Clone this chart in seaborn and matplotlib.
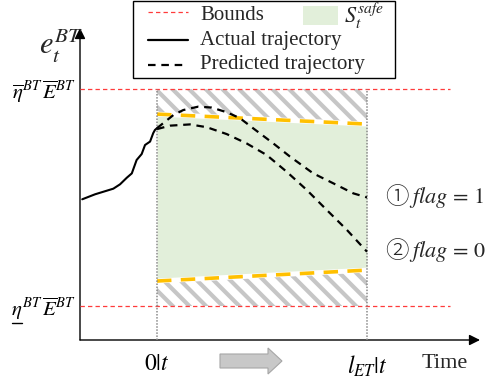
import matplotlib
matplotlib.use('Agg')
import matplotlib.pyplot as plt
import matplotlib.patches as mpatches
import seaborn as sns
import pandas as pd

# time in steps relative to t: 0|t is "now", 10 stands for l_ET|t
horizon = [0, 10]
tick_labels_x = [r'$\mathit{0}|t$', r'$l_{ET}|t$']

# measured (actual) trajectory before t
hist_t = [-3.56, -2.95, -2.08, -1.76, -1.44, -1.20, -0.97, -0.73, -0.57, -0.33, -0.18, -0.10, 0.0]
hist_e = [45.1, 46.7, 48.5, 49.9, 52.0, 53.4, 57.7, 59.6, 62.5, 63.6, 66.3, 67.3, 67.9]

# predicted trajectories over the horizon
pred1_t = [0, 0.78, 1.25, 1.97, 2.6, 3.32, 3.95, 4.59, 5.54, 6.33, 7.44, 8.40, 9.35, 10]
pred1_e = [67.9, 72.1, 73.7, 74.8, 74.5, 73.0, 71.1, 67.8, 63.0, 58.8, 53.4, 50.2, 47.0, 45.7]
pred0_t = [0, 0.62, 1.57, 2.37, 3.32, 4.27, 5.22, 6.18, 7.13, 8.08, 9.04, 10]
pred0_e = [67.6, 68.7, 69.1, 68.2, 66.0, 63.0, 59.3, 53.9, 48.1, 41.7, 35.3, 28.3]

# safe set edges at the start and end of the horizon
safe_upper = [72.4, 69.2]
safe_lower = [18.9, 22.4]

# energy bounds
e_max = 80.4
e_min = 10.9
# mathtext has no \underline, the bar under eta is drawn separately
bound_labels = [r'$\eta^{BT}\,\overline{E}^{BT}$',
                r'$\overline{\eta}^{BT}\,\overline{E}^{BT}$']

flag_labels = [u'\u2460', u'\u2461']
flag_texts = [r'$flag\,=\,1$', r'$flag\,=\,0$']

sns.set_theme(style='white')
plt.rcParams['font.family'] = ['Liberation Serif', 'Noto Sans CJK JP', 'DejaVu Sans']
plt.rcParams['mathtext.fontset'] = 'stix'
plt.rcParams['hatch.linewidth'] = 3.0

W, H = 489, 379
fig = plt.figure(figsize=(W / 100, H / 100), dpi=100)
ax = fig.add_axes([80 / W, 39 / H, 400 / W, 312 / H])
ax.set_xlim(-77 / 21, -77 / 21 + 400 / 21)
ax.set_ylim(0, 100)

green = '#E2EFDA'
orange = '#FFC000'
hatch_gray = '#C6C6C6'

# hatched zones between the bounds and the safe set
ax.fill_between(horizon, safe_upper, [e_max, e_max], facecolor='white',
                edgecolor=hatch_gray, hatch='\\\\', linewidth=0, zorder=1)
ax.fill_between(horizon, [e_min, e_min], safe_lower, facecolor='white',
                edgecolor=hatch_gray, hatch='\\\\', linewidth=0, zorder=1)
# safe set
ax.fill_between(horizon, safe_lower, safe_upper, color=green, linewidth=0, zorder=1)
for edge in (safe_upper, safe_lower):
    ax.plot(horizon, edge, color='white', lw=3.5, zorder=2)
    ax.plot(horizon, edge, color=orange, lw=2.6, linestyle=(0, (4, 2.6)), zorder=3)

# bounds and horizon limits
ax.hlines([e_min, e_max], ax.get_xlim()[0], 13.95, colors='#FF3B3B',
          linestyles=(0, (3.5, 2.5)), lw=0.9, zorder=4)
ax.vlines(horizon, 0, e_max, colors='#8A8A8A', linestyles=(0, (1, 1)), lw=1.1, zorder=4)

# trajectories
df_hist = pd.DataFrame({'t': hist_t, 'e': hist_e})
sns.lineplot(data=df_hist, x='t', y='e', ax=ax, color='black', lw=1.5, sort=False, zorder=5)
for tt, ee in ((pred1_t, pred1_e), (pred0_t, pred0_e)):
    sns.lineplot(x=tt, y=ee, ax=ax, color='black', lw=1.6, sort=False,
                 linestyle=(0, (3.4, 2.6)), zorder=5)

# axes drawn as arrows
for s in ax.spines.values():
    s.set_visible(False)
arrow = dict(arrowstyle='-|>', color='black', lw=1.0, mutation_scale=16,
             shrinkA=0, shrinkB=0)
ax.annotate('', xy=(1, 0), xytext=(0, 0), xycoords='axes fraction', arrowprops=arrow)
ax.annotate('', xy=(0, 1), xytext=(0, 0), xycoords='axes fraction', arrowprops=arrow)

ax.set_xticks(horizon, labels=tick_labels_x)
ax.set_yticks([e_min, e_max], labels=bound_labels)
ax.tick_params(length=0, colors='black')
ax.tick_params(axis='x', pad=10, labelsize=17)
ax.tick_params(axis='y', pad=3, labelsize=15)
ax.set_xlabel('')
ax.set_ylabel('')

# flag annotations at the end of the horizon
for lbl, txt, ee in zip(flag_labels, flag_texts, [pred1_e[-1], pred0_e[-1]]):
    ax.annotate(lbl, xy=(10, ee), xytext=(18, 0), textcoords='offset pixels',
                va='center', ha='left', fontsize=17,
                family=['Noto Sans CJK JP', 'DejaVu Sans'], fontweight='light')
    ax.annotate(txt, xy=(10, ee), xytext=(42, 0), textcoords='offset pixels',
                va='center', ha='left', fontsize=16)

# overlay in pixel coordinates for labels, legend and arrow
ov = fig.add_axes([0, 0, 1, 1], zorder=10)
ov.set_xlim(0, W)
ov.set_ylim(H, 0)
ov.axis('off')
ov.patch.set_alpha(0)

# bar under the eta of the lower bound label
fig.canvas.draw()
bb = ax.get_yticklabels()[0].get_window_extent()
ov.plot([bb.x0 + 1, bb.x0 + 11], [H - bb.y0 + 1, H - bb.y0 + 1], color='black', lw=1.0)

ov.text(39, 46, r'$e_t^{BT}$', fontsize=22, ha='left', va='center')
ov.text(445, 363, 'Time', fontsize=16, ha='center', va='center')
ov.add_patch(mpatches.FancyArrow(220, 361, 62, 0, width=14, head_width=26,
                                 head_length=14, length_includes_head=True,
                                 facecolor='#C8C8C8', edgecolor='#A6A6A6', lw=0.8))

# legend box
ov.add_patch(mpatches.Rectangle((133, 1), 262, 77, facecolor='white',
                                edgecolor='black', lw=1.0))
ov.plot([148, 188], [12, 12], color='#FF3B3B', lw=0.9, linestyle=(0, (3.5, 2.5)))
ov.plot([148, 188], [40, 40], color='black', lw=1.6)
ov.plot([148, 188], [65, 65], color='black', lw=1.6, linestyle=(0, (3.4, 2.6)))
ov.add_patch(mpatches.Rectangle((303, 6), 35, 19, facecolor=green, lw=0))
ov.text(200, 15, 'Bounds', fontsize=15, va='center', ha='left')
ov.text(200, 41, 'Actual trajectory', fontsize=15, va='center', ha='left')
ov.text(200, 65, 'Predicted trajectory', fontsize=15, va='center', ha='left')
ov.text(344, 16, r'$S_t^{safe}$', fontsize=16, va='center', ha='left')

fig.savefig('out.png', dpi=100)
